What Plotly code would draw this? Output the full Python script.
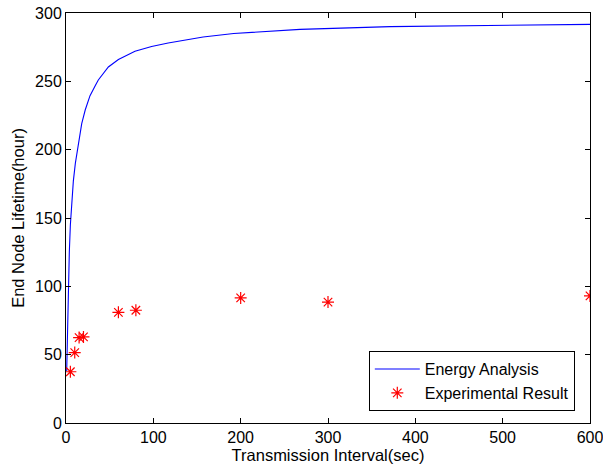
import plotly.graph_objects as go

# energy analysis curve
interval_model = [0.8, 1.5, 2.3, 3.8, 5, 6.9, 8.4, 10.7, 14.5, 18, 22, 27.5, 33.6, 37, 48.5, 60,
                  79, 98, 117, 136, 157, 192, 268, 371, 486, 600]
lifetime_model = [38, 62, 86, 125, 145, 164, 177, 190, 207, 219, 229, 239.5, 247, 251, 260.5, 266,
                  272, 275.5, 278, 280.3, 282.5, 285, 288, 290, 291, 291.7]

# experimental points
interval_exp = [5, 10, 15, 20, 60, 80, 200, 300, 600]
lifetime_exp = [37.5, 51.5, 62.5, 63, 81, 82.5, 91.5, 88.5, 93]

fig = go.Figure()

fig.add_trace(go.Scatter(x=interval_model, y=lifetime_model, mode="lines",
                         line=dict(color="#0000ff", width=1.1),
                         name="Energy Analysis"))

fig.add_trace(go.Scatter(x=interval_exp, y=lifetime_exp, mode="markers",
                         marker=dict(symbol="asterisk-open", size=10, color="#ff0000",
                                     line=dict(color="#ff0000", width=1.2)),
                         name="Experimental Result"))

axis_style = dict(showgrid=False, zeroline=False, showline=True, linecolor="black", linewidth=1,
                  mirror="ticks", ticks="inside", ticklen=5, tickcolor="black", automargin=False,
                  ticklabeloverflow="allow",
                  tickfont=dict(size=16, color="black"))

fig.update_xaxes(range=[0, 600], tickvals=[0, 100, 200, 300, 400, 500, 600],
                 title=dict(text="Transmission Interval(sec)", font=dict(size=16.5, color="black"), standoff=2),
                 **axis_style)
fig.update_yaxes(range=[0, 300], tickvals=[0, 50, 100, 150, 200, 250, 300],
                 title=dict(text="End Node Lifetime(hour)", font=dict(size=16.5, color="black"), standoff=6),
                 **axis_style)

fig.update_layout(width=603, height=471,
                  margin=dict(l=66, r=13, t=13, b=48),
                  paper_bgcolor="white", plot_bgcolor="white",
                  font=dict(family="Liberation Sans, Arial, sans-serif", size=16, color="black"),
                  legend=dict(x=0.971, y=0.029, xanchor="right", yanchor="bottom",
                              bgcolor="white", bordercolor="black", borderwidth=1,
                              itemwidth=45,
                              font=dict(size=16, color="black"), tracegroupgap=0),
                  showlegend=True)

# drop the default page margin so the figure sits at the window's corner
fig.write_html("out.html", config={"displayModeBar": False},
               post_script="document.body.style.margin='0px';")
